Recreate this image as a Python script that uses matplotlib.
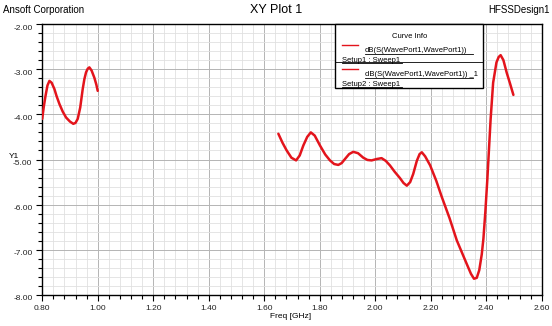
import matplotlib
matplotlib.use('Agg')
import matplotlib.pyplot as plt
import matplotlib.transforms as mtransforms
from matplotlib.lines import Line2D
from matplotlib.patches import Rectangle
from matplotlib.ticker import MultipleLocator, FormatStrFormatter

plt.rcParams['font.family'] = ['Liberation Sans', 'DejaVu Sans']

# Setup1 : Sweep1
freq1 = [0.80, 0.806, 0.812, 0.819, 0.826, 0.834, 0.844, 0.852, 0.862, 0.874,
         0.886, 0.900, 0.912, 0.920, 0.928, 0.937, 0.946, 0.952, 0.958, 0.964,
         0.970, 0.978, 0.988, 0.995, 1.00]
db1 = [-4.10, -3.82, -3.59, -3.36, -3.26, -3.30, -3.44, -3.60, -3.77, -3.94,
       -4.07, -4.16, -4.21, -4.19, -4.10, -3.85, -3.44, -3.22, -3.07, -2.99,
       -2.96, -3.03, -3.19, -3.34, -3.48]

# Setup2 : Sweep1
freq2 = [1.651, 1.666, 1.681, 1.698, 1.715, 1.728, 1.741, 1.755, 1.768, 1.782,
         1.801, 1.820, 1.837, 1.852, 1.867, 1.879, 1.891, 1.906, 1.921, 1.938,
         1.957, 1.972, 1.987, 2.005, 2.023, 2.038, 2.053, 2.070, 2.089, 2.102,
         2.114, 2.126, 2.137, 2.150, 2.160, 2.168, 2.180, 2.198, 2.220, 2.240,
         2.268, 2.294, 2.329, 2.345, 2.356, 2.366, 2.375, 2.384, 2.390, 2.397,
         2.404, 2.416, 2.425, 2.437, 2.445, 2.452, 2.462, 2.474, 2.486, 2.498]
db2 = [-4.43, -4.63, -4.80, -4.96, -5.02, -4.91, -4.69, -4.50, -4.40, -4.47,
       -4.69, -4.89, -5.02, -5.10, -5.12, -5.08, -4.99, -4.88, -4.83, -4.86,
       -4.96, -5.01, -5.02, -4.99, -4.97, -5.03, -5.13, -5.27, -5.41, -5.52,
       -5.58, -5.50, -5.32, -5.03, -4.88, -4.84, -4.93, -5.13, -5.47, -5.83,
       -6.30, -6.79, -7.30, -7.53, -7.64, -7.62, -7.45, -7.10, -6.75, -6.15,
       -5.45, -4.10, -3.30, -2.85, -2.73, -2.69, -2.80, -3.08, -3.32, -3.57]

legend_names = ['dB(S(WavePort1,WavePort1))', 'dB(S(WavePort1,WavePort1)) _1']
legend_setups = ['Setup1 : Sweep1', 'Setup2 : Sweep1']

RED = '#e3141c'
W, H = 552, 326

fig = plt.figure(figsize=(5.52, 3.26), dpi=100)
ax = fig.add_axes([42.2 / W, 1 - 295 / H, (541.7 - 42.2) / W, (295 - 24) / H])

ax.plot(freq1, db1, color=RED, lw=1.8, solid_capstyle='round',
        solid_joinstyle='round', zorder=3)
ax.plot(freq2, db2, color=RED, lw=1.8, solid_capstyle='round',
        solid_joinstyle='round', zorder=3)

ax.set_xlim(0.8, 2.6)
ax.set_ylim(-8, -2)
ax.xaxis.set_major_locator(MultipleLocator(0.2))
ax.xaxis.set_minor_locator(MultipleLocator(0.04))
ax.yaxis.set_major_locator(MultipleLocator(1.0))
ax.yaxis.set_minor_locator(MultipleLocator(0.2))
ax.xaxis.set_major_formatter(FormatStrFormatter('%.2f'))
ax.yaxis.set_major_formatter(FormatStrFormatter('%.2f'))

ax.grid(which='major', color='#b4b4b4', lw=0.7)
ax.grid(which='minor', color='#e0e0e0', lw=0.6)
ax.set_axisbelow(True)

ax.tick_params(which='both', direction='out', color='black', width=0.8,
               labelsize=6, labelcolor='#222222')
ax.tick_params(which='major', length=4, pad=3)
ax.tick_params(which='minor', length=3)
for s in ax.spines.values():
    s.set_linewidth(1.0)

# y labels sit a bit below their ticks
shift = mtransforms.ScaledTranslation(0, -3 / 100, fig.dpi_scale_trans)
for lbl in ax.get_yticklabels():
    lbl.set_transform(lbl.get_transform() + shift)

fig.text(0.5, 1 - 10 / H, 'XY Plot 1', ha='center', va='center', fontsize=9)
fig.text(3 / W, 1 - 10 / H, 'Ansoft Corporation', ha='left', va='center', fontsize=7)
fig.text(550 / W, 1 - 10 / H, 'HFSSDesign1', ha='right', va='center', fontsize=7)
fig.text(291 / W, 1 - 317 / H, 'Freq [GHz]', ha='center', va='center', fontsize=6)
fig.text(14 / W, 1 - 156 / H, 'Y1', ha='center', va='center', fontsize=6)

# legend box, drawn like the HFSS one
def fx(px):
    return px / W

def fy(py):
    return 1 - py / H

box = Rectangle((fx(335), fy(88)), fx(483) - fx(335), fy(24) - fy(88),
                transform=fig.transFigure, facecolor='white', edgecolor='black',
                lw=1.0, zorder=5)
fig.add_artist(box)
fig.text(fx(410), fy(37), 'Curve Info', ha='center', va='center', fontsize=5.5, zorder=6)
rows = [45, 69]
for i, r in enumerate(rows):
    fig.add_artist(Line2D([fx(342), fx(358)], [fy(r), fy(r)], transform=fig.transFigure,
                          color=RED, lw=1.0, zorder=6))
    fig.text(fx(365), fy(r + 5.5), legend_names[i], ha='left', va='center',
             fontsize=5.5, zorder=6)
    fig.add_artist(Line2D([fx(365), fx(473)], [fy(r + 9), fy(r + 9)],
                          transform=fig.transFigure, color='black', lw=0.6, zorder=6))
    fig.text(fx(342), fy(r + 15), legend_setups[i], ha='left', va='center',
             fontsize=5.5, zorder=6)
    fig.add_artist(Line2D([fx(342), fx(402)], [fy(r + 18), fy(r + 18)],
                          transform=fig.transFigure, color='black', lw=0.6, zorder=6))
fig.add_artist(Line2D([fx(335), fx(483)], [fy(62), fy(62)], transform=fig.transFigure,
                      color='black', lw=0.6, zorder=6))

fig.savefig('out.png', dpi=100)
